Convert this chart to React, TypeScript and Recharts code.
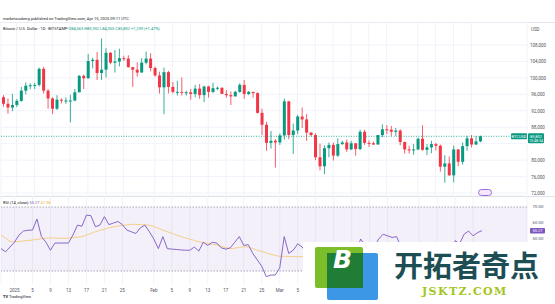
import React from 'react';
import { ComposedChart, Bar, Line, XAxis, YAxis, CartesianGrid, ReferenceLine, ReferenceArea } from 'recharts';

// daily slots from Dec 29 2024, with empty room to the right like TradingView
const startDay = Date.UTC(2024, 11, 29);
const totalSlots = 118;
const days = Array.from({ length: totalSlots }, (_, i) =>
    new Date(startDay + i * 86400000).toISOString().slice(0, 10)
);

const openPrices = [
    95300, 93700, 92800, 93400, 94400, 96900, 98100, 98200, 98300, 102200,
    96900, 95000, 92500, 94700, 94500, 94500, 94500, 96500, 100500, 99900,
    104100, 104400, 101200, 102000, 106100, 103700, 104000, 104800, 104700, 102600,
    102000, 101300, 103700, 104700, 102400, 100600, 97700, 101400, 97800, 96600,
    96600, 96500, 96500, 96100, 97400, 95800, 97900, 96600, 97500, 97600,
    96100, 95800, 95500, 96600, 98300, 96100, 96600, 96300, 91500, 88600,
    84200, 84700, 84300, 86000, 94300, 86100, 87200, 90600, 89900, 86700,
    86100, 80700, 78500, 82900, 83700, 81100, 83900, 84300, 82600, 84100,
    82700, 86900, 84200, 84100, 83800, 86100, 87500, 87400, 86900, 87200,
    84400, 82600, 82400, 82600, 85200, 82500, 83100, 83900, 83500, 78400,
    79200, 76300, 82600, 79600, 83400, 85300, 83800, 84563,
];
const highPrices = [
    95800, 95000, 96100, 94900, 97800, 98900, 98700, 98800, 102500, 102700,
    97300, 95300, 95800, 95000, 95300, 95900, 97300, 100700, 100800, 105800,
    104900, 106300, 109600, 107200, 106300, 106800, 107100, 105400, 105500, 102700,
    103800, 104800, 106400, 106000, 102800, 101500, 102500, 101700, 99000, 99300,
    100100, 96900, 97300, 98300, 98500, 98100, 98100, 98800, 97900, 97700,
    97000, 96700, 96900, 98700, 99500, 96800, 96600, 96500, 92500, 89300,
    87100, 85100, 86500, 95000, 94400, 88900, 91000, 92800, 91200, 86800,
    86500, 84000, 83600, 84300, 84300, 85300, 84700, 85000, 84700, 84100,
    87400, 87400, 84800, 84500, 86100, 88700, 88500, 88300, 87800, 87500,
    84500, 83500, 83900, 85500, 88500, 83900, 84700, 84200, 83800, 81200,
    80900, 83500, 82700, 84300, 85900, 86100, 85800, 85952,
];
const lowPrices = [
    93000, 91300, 91900, 92900, 94200, 96000, 97200, 97300, 97900, 96200,
    92500, 91200, 92200, 93800, 93700, 89200, 94300, 96500, 97300, 99900,
    102300, 99500, 99500, 100100, 103300, 101300, 102800, 104100, 102500, 97800,
    100300, 101300, 103300, 101600, 100300, 96200, 91200, 96200, 96200, 95700,
    95700, 95700, 94700, 95300, 94900, 94100, 95200, 96300, 97000, 96100,
    95200, 93400, 95500, 96400, 94900, 95800, 95200, 91300, 86100, 82300,
    82800, 78200, 83700, 85000, 85100, 81500, 86300, 87800, 84700, 85800,
    80000, 77500, 76600, 80700, 79900, 80800, 83700, 82000, 82500, 81100,
    82400, 83700, 83200, 83700, 83800, 85600, 86300, 85900, 85900, 83600,
    81600, 81600, 81300, 82400, 82300, 81200, 81700, 82400, 77200, 74500,
    76200, 74600, 78500, 78900, 82300, 83100, 83700, 84355,
];
const closePrices = [
    93700, 92800, 93400, 94400, 96900, 98100, 98200, 98300, 102200, 96900,
    95000, 92500, 94700, 94500, 94500, 94500, 96500, 100500, 99900, 104100,
    104400, 101200, 102000, 106100, 103700, 104000, 104800, 104700, 102600, 102000,
    101300, 103700, 104700, 102400, 100600, 97700, 101400, 97800, 96600, 96600,
    96500, 96500, 96100, 97400, 95800, 97900, 96600, 97500, 97600, 96100,
    95800, 95500, 96600, 98300, 96100, 96600, 96300, 91500, 88600, 84200,
    84700, 84300, 86000, 94300, 86100, 87200, 90600, 89900, 86700, 86100,
    80700, 78500, 82900, 83700, 81100, 83900, 84300, 82600, 84100, 82700,
    86900, 84200, 84100, 83800, 86100, 87500, 87400, 86900, 87200, 84400,
    82600, 82400, 82600, 85200, 82500, 83100, 83900, 83500, 78400, 79200,
    76300, 82600, 79600, 83400, 85300, 83800, 84563, 85802,
];

const rsiValues = [
    44, 42, 45, 48, 52.5, 55, 55.5, 55.6, 62.5, 51.5,
    48, 43, 47.5, 47.5, 47.5, 47.5, 52.5, 58.7, 58, 65,
    64.6, 57.7, 58.7, 64, 59, 60, 61, 59, 55.6, 54.5,
    53.5, 57, 58.7, 54.6, 50, 44, 51.5, 44, 43.7, 43.5,
    43.2, 43, 43, 45, 42.5, 48, 46, 48, 47.5, 44.5,
    43.7, 44.5, 48, 51.5, 46, 46.5, 41, 37, 33, 26.5,
    27.5, 27.5, 32, 51.5, 41, 43, 47, 45, 41, 40,
    35, 32, 40, 42, 38, 43, 44, 41, 44, 42,
    50, 46, 46, 45, 50, 53, 52, 51, 51.5, 45,
    42, 41.5, 42, 48, 42, 43.5, 45, 44, 35, 37,
    33, 49, 47, 53, 55, 52, 54, 55.27,
];
const rsiMaValues = [
    52.5, 50.5, 48.5, 48.3, 48.5, 48.8, 49.1, 49.4, 49.8, 50.2,
    50.6, 50.8, 50.6, 50.5, 50.4, 50.6, 50.9, 51.2, 51.5, 52.5,
    53.5, 54.6, 55.4, 56.2, 57, 57.7, 58.1, 58.5, 58.9, 59.2,
    59.2, 59, 58.9, 58.7, 57.8, 56.7, 55.6, 54.6, 53.6, 52.5,
    51.5, 50.7, 49.9, 49.1, 48.3, 47.8, 47.2, 46.7, 46.3, 45.4,
    44.6, 44, 44.3, 44.8, 45.2, 45, 44, 43, 42.2, 41.3,
    40.5, 39.7, 39.2, 39.2, 39.1, 39, 39, 39, 39.3, 39.6,
    39.4, 39, 39.2, 39.5, 39.6, 39.8, 40, 40.3, 40.6, 41,
    41.6, 42.2, 42.8, 43.3, 43.9, 44.5, 45.2, 45.7, 46.2, 46.4,
    46.4, 46.3, 46.2, 46.1, 45.8, 45.5, 45.2, 44.9, 44.3, 43.7,
    42.9, 42.8, 43, 43.6, 44.4, 45.2, 46.3, 47.38,
];

const priceTicks = [72000, 76000, 80000, 84000, 88000, 92000, 96000, 100000, 104000, 108000];
const rsiTicks = [30, 40, 50, 60, 70];
const timeTicks: [string, string][] = [
    ['2025-01-01', '2025'], ['2025-01-05', '5'], ['2025-01-09', '9'], ['2025-01-13', '13'],
    ['2025-01-17', '17'], ['2025-01-21', '21'], ['2025-01-25', '25'], ['2025-02-01', 'Feb'],
    ['2025-02-05', '5'], ['2025-02-09', '9'], ['2025-02-13', '13'], ['2025-02-17', '17'],
    ['2025-02-21', '21'], ['2025-02-25', '25'], ['2025-03-01', 'Mar'], ['2025-03-05', '5'],
    ['2025-03-09', '9'], ['2025-03-13', '13'], ['2025-03-17', '17'], ['2025-03-21', '21'],
    ['2025-03-25', '25'], ['2025-04-01', 'Apr'], ['2025-04-05', '5'], ['2025-04-09', '9'],
    ['2025-04-13', '13'],
];

const UP = '#089981';
const DOWN = '#f23645';
const GRID = '#f0f3fa';
const TEXT = '#50535e';
const FONT = 'Roboto, sans-serif';
const WATERMARK_LEFT = 303;
const WATERMARK_TOP = 242;
const RSI_TOP = 196;

const tickDates = timeTicks.map(t => t[0]);
const tickLabel: Record<string, string> = Object.fromEntries(timeTicks);
const last = closePrices.length - 1;
const lastClose = closePrices[last];

const rows = days.map((d, i) =>
    i <= last
        ? {
            d,
            open: openPrices[i],
            high: highPrices[i],
            low: lowPrices[i],
            close: closePrices[i],
            range: [lowPrices[i], highPrices[i]],
            rsi: rsiValues[i],
            ma: rsiMaValues[i],
        }
        : { d }
);

const Candle = (props: any) => {
    const { x, y, width, height, payload } = props;
    if (!payload || payload.open == null) return null;
    const { open, close, high, low } = payload;
    const k = height / (high - low);
    const color = close >= open ? UP : DOWN;
    const top = y + (high - Math.max(open, close)) * k;
    const h = Math.max(1, Math.abs(close - open) * k);
    const cx = x + width / 2;
    return (
        <g>
            <line x1={cx} x2={cx} y1={y} y2={y + height} stroke={color} strokeWidth={0.8} />
            <rect x={x} y={top} width={width} height={h} fill={color} />
        </g>
    );
};

const PriceTick = (props: any) => {
    const { y, payload } = props;
    if (payload.value === 84000) return null; // hidden behind the last price badge
    return (
        <text x={538} y={y + 2} textAnchor="middle" fontSize={4.5} fill={TEXT} fontFamily={FONT}>
            {payload.value.toLocaleString('en-US')}
        </text>
    );
};

const RsiTick = (props: any) => {
    const { y, payload } = props;
    // lower labels sit under the watermark box
    if (y + RSI_TOP > WATERMARK_TOP) return null;
    return (
        <text x={538} y={y + 1.2} textAnchor="middle" fontSize={4.3} fill={TEXT} fontFamily={FONT}>
            {payload.value.toFixed(2)}
        </text>
    );
};

const TimeTick = (props: any) => {
    const { x, y, payload } = props;
    if (x > WATERMARK_LEFT) return null;
    return (
        <text x={x} y={y - 0.5} textAnchor="middle" fontSize={4.5} fill={TEXT} fontFamily={FONT}>
            {tickLabel[payload.value]}
        </text>
    );
};

const LastPriceBadge = (props: any) => {
    const vb = props.viewBox || {};
    const right = (vb.x || 0) + (vb.width || 0);
    const y = vb.y || 0;
    return (
        <g fontFamily={FONT}>
            <rect x={right - 16} y={y - 3} width={16} height={6} rx={1} fill={UP} />
            <text x={right - 8} y={y + 1.6} textAnchor="middle" fontSize={4} fill="#fff">BTCUSD</text>
            <rect x={right + 1} y={y - 3} width={16} height={10} rx={1} fill={UP} />
            <text x={right + 9} y={y + 1.6} textAnchor="middle" fontSize={4} fill="#fff">
                {lastClose.toLocaleString('en-US')}
            </text>
            <text x={right + 9} y={y + 6} textAnchor="middle" fontSize={3.6} fill="#fff">10:48:34</text>
        </g>
    );
};

// shift keeps the badge clear of the axis label next to it, as TradingView does
const ValueBadge = (color: string, text: string, textColor: string, shift = 0) => (props: any) => {
    const vb = props.viewBox || {};
    const right = (vb.x || 0) + (vb.width || 0);
    const y = (vb.y || 0) + shift;
    return (
        <g fontFamily={FONT}>
            <rect x={right + 3} y={y - 2.5} width={15} height={5.5} rx={1} fill={color} />
            <text x={right + 10.5} y={y + 1.6} textAnchor="middle" fontSize={4} fill={textColor}>{text}</text>
        </g>
    );
};

const App = () => {
    return (
        <div style={{ position: 'absolute', left: 0, top: 0, width: 555, height: 304, background: '#fff', overflow: 'hidden', fontFamily: FONT }}>
            {/* header */}
            <div style={{ position: 'absolute', left: 3, top: 16, fontSize: 4, color: '#131722', whiteSpace: 'nowrap' }}>
                marketzucberg published on TradingView.com, Apr 15, 2025 09:11 UTC
            </div>
            <div style={{ position: 'absolute', left: 0, top: 22, width: 555, height: 1, background: '#e0e3eb' }} />

            <div style={{ position: 'absolute', left: 0, top: 22 }}>
                <ComposedChart width={555} height={174} data={rows} margin={{ top: 0, right: 0, left: 1, bottom: 0 }}>
                    <CartesianGrid stroke={GRID} />
                    <XAxis dataKey="d" hide ticks={tickDates} interval={0} />
                    <YAxis
                        orientation="right"
                        width={28}
                        domain={[71277, 113594]}
                        allowDataOverflow
                        ticks={priceTicks}
                        interval={0}
                        axisLine={false}
                        tickLine={false}
                        tick={<PriceTick />}
                    />
                    <ReferenceLine y={lastClose} stroke={UP} strokeDasharray="1 1.5" strokeWidth={0.8} label={<LastPriceBadge />} />
                    <Bar dataKey="range" barSize={3} shape={<Candle />} isAnimationActive={false} />
                </ComposedChart>
            </div>

            <div style={{ position: 'absolute', left: 3, top: 26, fontSize: 4, whiteSpace: 'nowrap', color: '#131722' }}>
                Bitcoin / U.S. Dollar · 1D · BITSTAMP{' '}
                <span style={{ color: UP }}>
                    O84,563 H85,952 L84,355 C85,802 +1,239 (+1.47%)
                </span>
            </div>
            <div style={{ position: 'absolute', left: 531, top: 27, fontSize: 4.5, color: TEXT }}>USD</div>

            {/* event marker */}
            <div style={{ position: 'absolute', left: 478, top: 189, width: 14, height: 7, borderRadius: 4, border: '1px solid #9c6ade', background: '#f6e8fb', boxSizing: 'border-box' }} />

            <div style={{ position: 'absolute', left: 0, top: RSI_TOP, width: 555, height: 1, background: '#e0e3eb' }} />

            <div style={{ position: 'absolute', left: 0, top: RSI_TOP }}>
                <ComposedChart width={555} height={100} data={rows} margin={{ top: 0, right: 0, left: 1, bottom: 0 }}>
                    <CartesianGrid stroke={GRID} horizontal={false} />
                    <ReferenceArea y1={30} y2={70} fill="#7e57c2" fillOpacity={0.09} stroke="none" />
                    <ReferenceLine y={70} stroke="#9598a1" strokeDasharray="1.5 1.5" strokeWidth={0.8} />
                    <ReferenceLine y={30} stroke="#9598a1" strokeDasharray="1.5 1.5" strokeWidth={0.8} />
                    <XAxis
                        dataKey="d"
                        ticks={tickDates}
                        interval={0}
                        height={12}
                        axisLine={false}
                        tickLine={false}
                        tick={<TimeTick />}
                    />
                    <YAxis
                        orientation="right"
                        width={28}
                        domain={[21.9, 76.9]}
                        allowDataOverflow
                        ticks={rsiTicks}
                        interval={0}
                        axisLine={false}
                        tickLine={false}
                        tick={<RsiTick />}
                    />
                    <Line dataKey="ma" stroke="#f5c97e" strokeWidth={0.9} dot={false} isAnimationActive={false} />
                    <Line dataKey="rsi" stroke="#7e57c2" strokeWidth={0.9} dot={false} isAnimationActive={false} />
                    <ReferenceLine y={rsiValues[last]} strokeOpacity={0} label={React.createElement(ValueBadge('#7e57c2', '55.27', '#fff'))} />
                    <ReferenceLine y={rsiMaValues[last]} strokeOpacity={0} label={React.createElement(ValueBadge('#f7d774', '47.38', '#131722', 1.5))} />
                </ComposedChart>
            </div>

            <div style={{ position: 'absolute', left: 3, top: 199.5, fontSize: 4, whiteSpace: 'nowrap', color: '#131722' }}>
                RSI (14, close) <span style={{ color: '#7e57c2' }}>55.27</span>{' '}
                <span style={{ color: '#e8b73a' }}>47.38</span>
            </div>

            <div style={{ position: 'absolute', left: 3, top: 294, fontSize: 4, whiteSpace: 'nowrap', color: '#131722' }}>
                <b>TV</b> TradingView
            </div>

            {/* watermark */}
            <div style={{ position: 'absolute', left: WATERMARK_LEFT, top: WATERMARK_TOP, width: 252, height: 62, background: '#fff' }}>
                <div style={{ position: 'absolute', left: 12, top: 5, width: 48, height: 41, background: '#7cbd2a', borderRadius: 2 }} />
                <div style={{ position: 'absolute', left: 24, top: 11, width: 51, height: 47, background: '#3c98e6', borderRadius: 2 }} />
                <div style={{ position: 'absolute', left: 24, top: 11, width: 36, height: 35, background: '#1f7d36' }} />
                <div style={{ position: 'absolute', left: 30, top: 4, fontSize: 25, fontWeight: 900, fontStyle: 'italic', color: '#fff', fontFamily: 'DejaVu Sans, sans-serif', lineHeight: '28px' }}>B</div>
                <div style={{ position: 'absolute', left: 91, top: 8, fontSize: 29, fontWeight: 700, color: '#1c4e54', fontFamily: '"Noto Sans CJK SC", sans-serif', lineHeight: '29px', whiteSpace: 'nowrap' }}>
                    开拓者奇点
                </div>
                <div style={{ position: 'absolute', left: 119, top: 44, fontSize: 11, fontWeight: 700, color: '#a3c520', fontFamily: '"DejaVu Serif", serif', letterSpacing: 1.4, lineHeight: '11px', whiteSpace: 'nowrap' }}>
                    JSKTZ.COM
                </div>
            </div>
        </div>
    );
};

export default App;
